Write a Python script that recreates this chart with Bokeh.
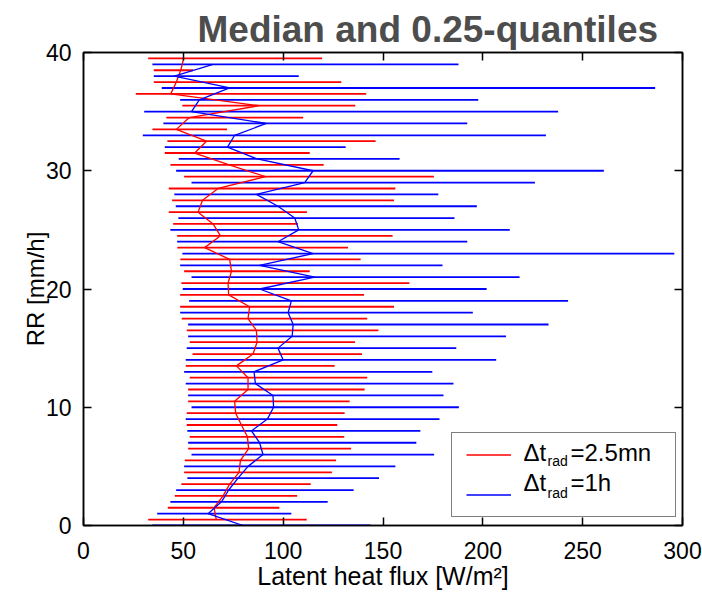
from bokeh.plotting import figure
from bokeh.models import Range1d, LinearAxis, Label, Legend, LegendItem, FixedTicker, ColumnDataSource
from bokeh.embed import file_html
from bokeh.resources import INLINE

# ---- data ----
rr_red = [0.5, 1.5, 2.5, 3.5, 4.5, 5.5, 6.5, 7.5, 8.5, 9.5,
          10.5, 11.5, 12.5, 13.5, 14.5, 15.5, 16.5, 17.5, 18.5, 19.5,
          20.5, 21.5, 22.5, 23.5, 24.5, 25.5, 26.5, 27.5, 28.5, 29.5,
          30.5, 31.5, 32.5, 33.5, 34.5, 35.5, 36.5, 37.5, 38.5, 39.5]
red_q25 = [32.4, 42.2, 45.7, 49.0, 50.4, 50.7, 52.4, 53.2, 51.7, 51.7,
           52.4, 52.4, 53.2, 51.2, 54.6, 53.2, 51.7, 49.2, 48.4, 48.4,
           49.0, 50.4, 48.5, 47.0, 46.9, 44.9, 42.7, 44.4, 42.7, 50.4,
           43.5, 40.7, 42.0, 34.5, 41.5, 49.5, 26.2, 35.2, 35.2, 32.4]
red_q75 = [111.8, 98.1, 107.0, 113.8, 124.4, 126.5, 134.0, 130.6, 127.1, 130.8,
           133.3, 140.8, 142.1, 125.8, 139.5, 136.0, 147.7, 142.1, 155.5, 140.5,
           163.2, 113.3, 138.8, 132.5, 154.8, 107.4, 111.9, 155.5, 156.2, 175.5,
           120.3, 113.3, 146.3, 71.9, 110.0, 136.1, 141.6, 129.1, 54.9, 119.5]
red_median = [66.5, 65.4, 69.9, 73.2, 77.9, 78.6, 82.7, 82.1, 79.1, 76.2,
              75.7, 82.4, 82.4, 76.6, 84.9, 86.9, 86.6, 82.4, 83.2, 72.7,
              72.4, 74.1, 73.2, 60.7, 68.6, 64.9, 57.4, 59.6, 67.4, 91.1,
              73.0, 55.7, 61.6, 46.5, 53.0, 88.0, 43.7, 46.5, 48.7, 50.2]

rr_blue = [0, 1, 2, 3, 4, 5, 6, 7, 8, 9,
           10, 11, 12, 13, 14, 15, 16, 17, 18, 19,
           20, 21, 22, 23, 24, 25, 26, 27, 28, 29,
           30, 31, 32, 33, 34, 35, 36, 37, 38, 39]
blue_q25 = [34.5, 36.9, 43.5, 46.4, 52.0, 50.4, 54.1, 52.4, 52.0, 51.2,
            54.1, 52.4, 51.2, 50.4, 51.2, 51.7, 52.4, 52.4, 48.4, 52.9,
            49.7, 54.1, 48.4, 49.5, 46.9, 43.5, 47.5, 46.2, 45.5, 54.1,
            46.4, 47.7, 40.7, 29.7, 40.0, 30.4, 48.4, 39.2, 35.2, 34.5]
blue_q75 = [143.8, 104.1, 122.3, 135.3, 148.0, 156.2, 175.6, 166.7, 168.7, 178.3,
            188.0, 180.3, 185.3, 174.7, 206.7, 186.7, 211.6, 232.9, 195.0, 242.7,
            201.9, 218.4, 179.8, 295.9, 192.2, 213.5, 185.8, 197.0, 177.7, 226.1,
            260.6, 158.3, 131.3, 231.6, 192.2, 237.7, 197.7, 286.3, 107.8, 187.8]
blue_median = [79.9, 62.4, 69.1, 72.7, 77.4, 82.4, 89.9, 88.2, 84.1, 92.1,
               95.2, 94.9, 86.1, 85.4, 100.0, 97.4, 104.5, 105.0, 102.5, 104.1,
               88.2, 115.8, 88.2, 115.0, 97.4, 107.8, 105.8, 97.4, 86.6, 110.8,
               115.0, 87.0, 72.1, 75.7, 91.6, 54.1, 58.0, 73.2, 45.5, 64.9]

x_ticks = [0, 50, 100, 150, 200, 250, 300]
y_ticks = [0, 10, 20, 30, 40]

title_text = "Median and 0.25-quantiles"
x_label = "Latent heat flux [W/m\u00b2]"
y_label = "RR [mm/h]"

FONT = "Liberation Sans"
W, H = 702, 593

p = figure(width=W, height=H, output_backend="svg", toolbar_location=None,
           x_range=Range1d(0, 300), y_range=Range1d(0, 40),
           x_axis_location=None, y_axis_location=None,
           min_border_left=83, min_border_right=20, min_border_top=52, min_border_bottom=68)
p.grid.visible = False
p.outline_line_color = "black"
p.outline_line_width = 1.5
p.background_fill_color = "white"
p.border_fill_color = "white"

p.title.text = title_text
p.title.text_font = FONT
p.title.text_font_size = "37px"
p.title.text_font_style = "bold"
p.title.text_color = "#4d4d4d"
p.title.align = "left"
p.title.offset = 114
p.title.standoff = 5

def make_axis(show_labels, ticks):
    ax = LinearAxis()
    ax.ticker = FixedTicker(ticks=ticks)
    ax.major_tick_in = 8
    ax.major_tick_out = 0
    ax.minor_tick_line_color = None
    ax.axis_line_color = "black"
    ax.axis_line_width = 1.5
    ax.major_tick_line_color = "black"
    ax.major_tick_line_width = 1.5
    if show_labels:
        ax.major_label_text_font = FONT
        ax.major_label_text_font_size = "23px"
        ax.major_label_text_color = "black"
        ax.axis_label_text_font = FONT
        ax.axis_label_text_font_size = "25px"
        ax.axis_label_text_font_style = "normal"
        ax.axis_label_text_color = "black"
    else:
        ax.major_label_overrides = {t: "" for t in ticks}
        ax.major_label_standoff = 0
    return ax

bx = make_axis(True, x_ticks)
bx.axis_label = x_label
bx.major_label_standoff = 16
bx.axis_label_standoff = 0
p.add_layout(bx, "below")

ly = make_axis(True, y_ticks)
ly.axis_label = y_label
ly.major_label_standoff = 12
ly.axis_label_standoff = -6
ly.axis_label_text_font_size = "24px"
p.add_layout(ly, "left")

p.add_layout(make_axis(False, x_ticks), "above")
p.add_layout(make_axis(False, y_ticks), "right")

red_src = ColumnDataSource(dict(rr=rr_red, lo=red_q25, hi=red_q75, med=red_median))
blue_src = ColumnDataSource(dict(rr=rr_blue, lo=blue_q25, hi=blue_q75, med=blue_median))

p.segment(x0="lo", x1="hi", y0="rr", y1="rr", source=red_src, line_color="#ff0000", line_width=1.8)
p.segment(x0="lo", x1="hi", y0="rr", y1="rr", source=blue_src, line_color="#0000ff", line_width=1.8)
r_med = p.line(x="med", y="rr", source=red_src, line_color="#ff0000", line_width=1.3)
b_med = p.line(x="med", y="rr", source=blue_src, line_color="#0000ff", line_width=1.3)

legend = Legend(items=[LegendItem(label=" ", renderers=[r_med]),
                       LegendItem(label=" ", renderers=[b_med])],
                location=(368, 8), padding=14, spacing=25, glyph_width=45, glyph_height=15,
                label_standoff=5, label_width=145, label_height=15, label_text_font_size="10px",
                border_line_color="black", border_line_width=1.2,
                background_fill_alpha=0.0, margin=0)
p.add_layout(legend)

# Label screen units are relative to the plot frame (x from left, y from bottom)
def lab(text, x, y, size):
    p.add_layout(Label(x=x, y=y, x_units="screen", y_units="screen", text=text,
                       text_font=FONT, text_font_size=size, text_color="black",
                       text_baseline="alphabetic", text_align="left", level="overlay"))

# legend texts
lab("\u0394t", 440, 73, "24px")
lab("rad", 464, 65, "14px")
lab("=2.5mn", 487, 73, "24px")
lab("\u0394t", 440, 43, "24px")
lab("rad", 464, 33, "14px")
lab("=1h", 487, 43, "24px")

open("out.html", "w").write(file_html(p, INLINE))
